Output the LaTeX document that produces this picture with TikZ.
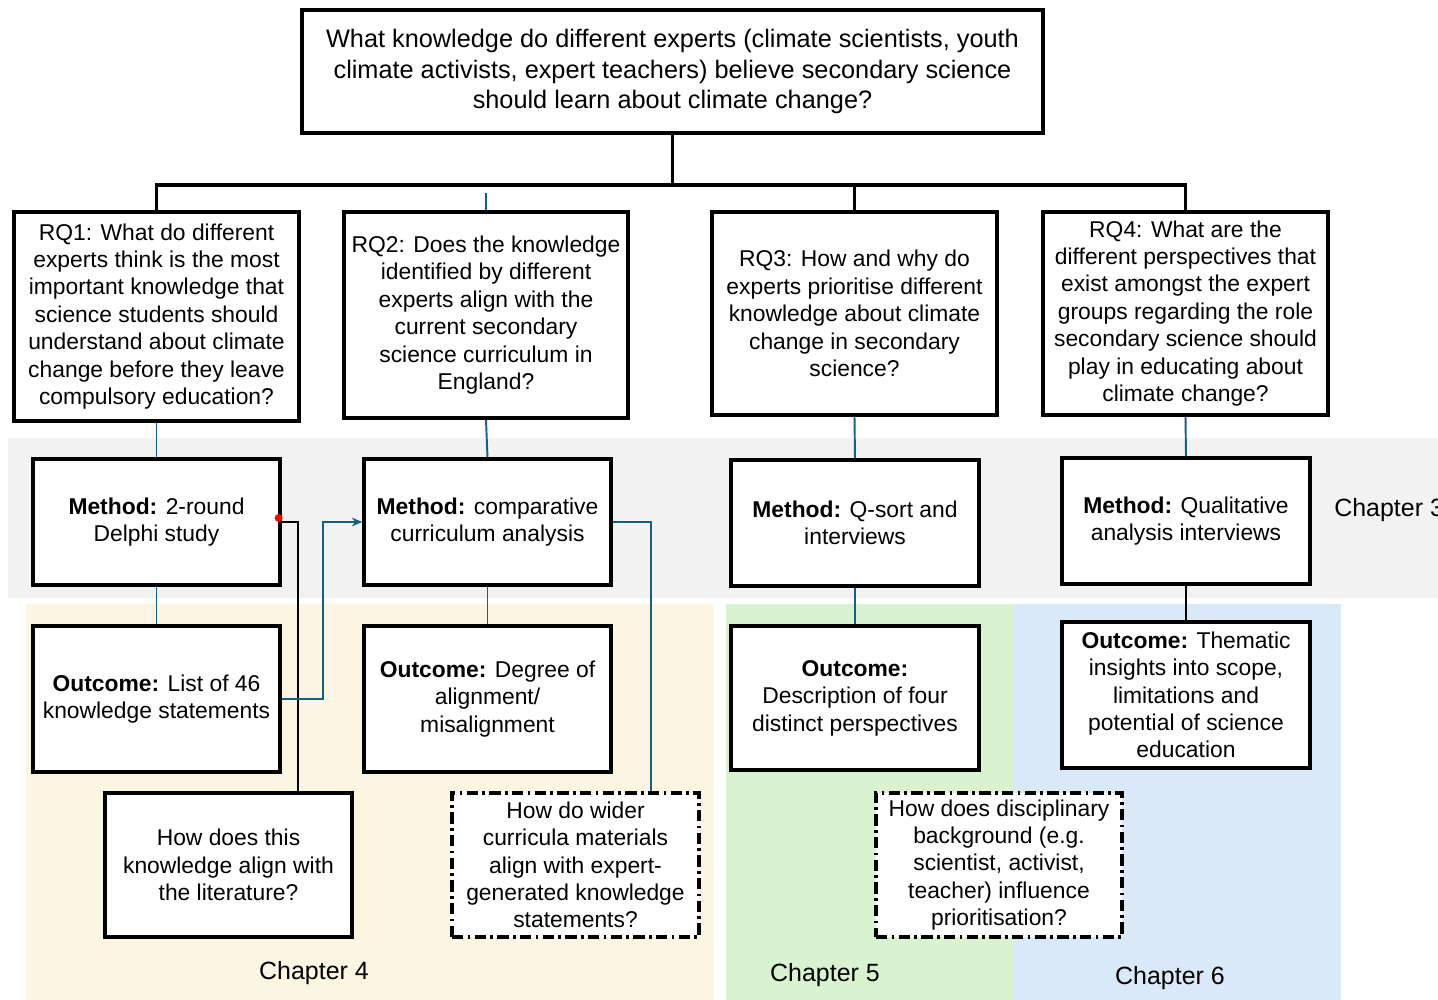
\documentclass[tikz,border=0pt]{standalone}
\usepackage{fontspec}
\setmainfont{Liberation Sans}
\usetikzlibrary{arrows.meta,calc}
\definecolor{cblue}{HTML}{156082}
\definecolor{bggray}{RGB}{242,242,242}
\definecolor{bgcream}{RGB}{251,245,225}
\definecolor{bggreen}{RGB}{217,242,208}
\definecolor{bgblue}{RGB}{218,233,248}
\begin{document}
\begin{tikzpicture}[x=0.02cm,y=-0.02cm,
  box/.style={draw=black, line width=1.9pt, fill=white, align=center, inner sep=0pt,
    font=\fontsize{13}{15.6}\selectfont},
  sz/.style 2 args={minimum width=#1*0.02cm, minimum height=#2*0.02cm},
  dbox/.style={box, dash pattern=on 6.5pt off 2.4pt on 1.6pt off 2.4pt},
  blk/.style={draw=black, line width=1.9pt},
  thinblk/.style={draw=black, line width=1.1pt},
  bl/.style={draw=cblue, line width=1.1pt},
  chap/.style={font=\fontsize{14.2}{17}\selectfont, inner sep=0pt}]
\useasboundingbox (0,0) rectangle (1438,1000);
\fill[white] (0,0) rectangle (1438,1000);
% background bands
\fill[bggray] (8,438) rectangle (1438,598);
\fill[bgcream] (26,604) rectangle (714,1000);
\fill[bggreen] (726,604) rectangle (1013,1000);
\fill[bgblue] (1013,604) rectangle (1341,1000);
% nodes
\node[box, sz={741}{123}, font=\fontsize{14.4}{17.6}\selectfont] (top) at (672.5,71.5)
  {What knowledge do different experts (climate scientists, youth\\ climate activists, expert teachers) believe secondary science\\ should learn about climate change?};
\node[box, sz={285}{209}] (rq1) at (156.5,316.5)
  {RQ1: What do different\\experts think is the most\\important knowledge that\\science students should\\understand about climate\\change before they leave\\compulsory education?};
\node[box, sz={284}{206}] (rq2) at (486,315)
  {RQ2: Does the knowledge\\identified by different\\experts align with the\\current secondary\\science curriculum in\\England?};
\node[box, sz={285}{203}] (rq3) at (854.5,313.5)
  {RQ3: How and why do\\experts prioritise different\\knowledge about climate\\change in secondary\\science?};
\node[box, sz={285}{203}] (rq4) at (1185.5,313.5)
  {RQ4: What are the\\different perspectives that\\exist amongst the expert\\groups regarding the role\\secondary science should\\play in educating about\\climate change?};
\node[box, sz={247}{126}] (m1) at (156.5,522) {\textbf{Method:} 2-round\\Delphi study};
\node[box, sz={247}{126}] (m2) at (487.5,522) {\textbf{Method:} comparative\\curriculum analysis};
\node[box, sz={248}{126}] (m3) at (855,523) {\textbf{Method:} Q-sort and\\interviews};
\node[box, sz={248}{126}] (m4) at (1186,521) {\textbf{Method:} Qualitative\\analysis interviews};
\node[box, sz={247}{146}] (o1) at (156.5,699) {\textbf{Outcome:} List of 46\\knowledge statements};
\node[box, sz={247}{146}] (o2) at (487.5,699) {\textbf{Outcome:} Degree of\\alignment/\\misalignment};
\node[box, sz={248}{144}] (o3) at (855,698) {\textbf{Outcome:}\\Description of four\\distinct perspectives};
\node[box, sz={248}{146}] (o4) at (1186,695) {\textbf{Outcome:} Thematic\\insights into scope,\\limitations and\\potential of science\\education};
\node[box, sz={247}{144}] (lit) at (228.5,865) {How does this\\knowledge align with\\the literature?};
\node[dbox, sz={247}{144}] (wider) at (575.5,865) {How do wider\\curricula materials\\align with expert-\\generated knowledge\\statements?};
\node[dbox, sz={246}{144}] (disc) at (999,865) {How does disciplinary\\background (e.g.\\scientist, activist,\\teacher) influence\\prioritisation?};
% chapter labels
\node[chap, anchor=west] (ch3) at (1334,510) {Chapter 3};
\node[chap] (ch4) at (314,973) {Chapter 4};
\node[chap] (ch5) at (825,975) {Chapter 5};
\node[chap] (ch6) at (1170,978) {Chapter 6};
% top tree
\coordinate (hub) at (671,185);
\draw[blk] (top.south) -- (top.south |- hub);
\draw[blk] (rq1.north) |- (rq4.north |- hub) -- (rq4.north);
\draw[blk] (rq3.north) -- (rq3.north |- hub);
\coordinate (r2top) at (486,193);
\draw[bl] (r2top) -- (rq2.north);
% vertical chains
\draw[bl] (rq1.south) -- (m1.north);
\draw[bl] (m1.south) -- (o1.north);
\draw[bl] (rq2.south) -- (m2.north);
\draw[bl] (m2.south) -- (o2.north);
\draw[bl] (rq3.south) -- (m3.north);
\draw[bl] (m3.south) -- (o3.north);
\draw[bl] (rq4.south) -- (m4.north);
\draw[thinblk] (m4.south) -- (o4.north);
% cross links
\draw[thinblk] (m1.east) -| ($(lit.north)+(69.5,0)$);
\draw[bl, -{Stealth[length=6pt,width=5pt]}] (o1.east) -- ++(41,0) |- (m2.west);
\draw[bl] (m2.east) -| ($(wider.north)+(75.5,0)$);
\node[circle, fill=red, inner sep=0pt, minimum size=8*0.02cm] (dot) at ($(m1.east)+(-3,-4)$) {};
\end{tikzpicture}
\end{document}
